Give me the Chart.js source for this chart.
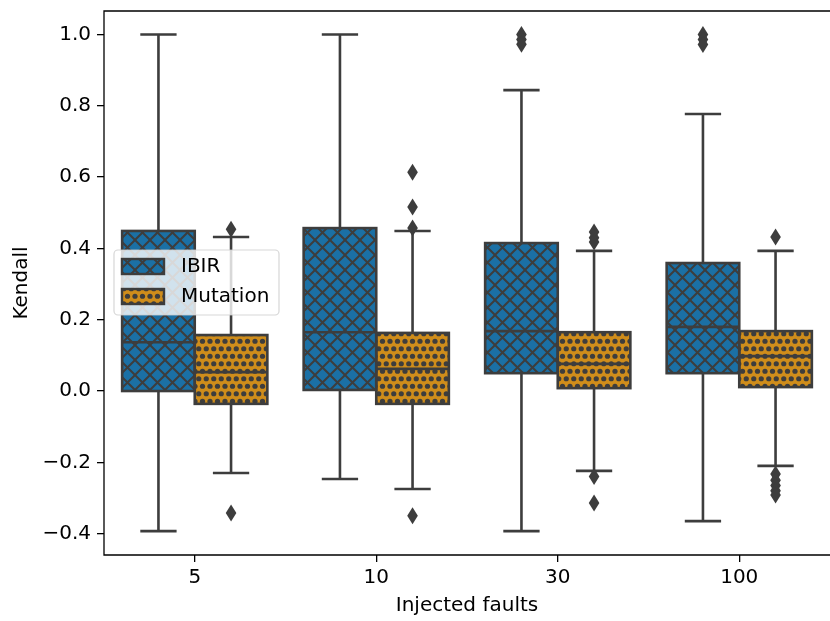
<!DOCTYPE html>
<html>
<head>
<meta charset="utf-8">
<title>Kendall by injected faults</title>
<script src="https://cdn.jsdelivr.net/npm/chart.js@4.4.1/dist/chart.umd.min.js"></script>
<style>
  html, body { margin: 0; padding: 0; background: #fff; overflow: hidden; }
  canvas { display: block; }
</style>
</head>
<body>
<canvas id="chart" width="830" height="621"></canvas>
<script>
const categories = ['5', '10', '30', '100'];
const seriesNames = ['IBIR', 'Mutation'];

// IBIR box statistics
const ibirLow = [-0.393, -0.247, -0.393, -0.365];
const ibirQ1 = [0.0, 0.003, 0.05, 0.05];
const ibirMedian = [0.137, 0.165, 0.168, 0.18];
const ibirQ3 = [0.449, 0.457, 0.415, 0.359];
const ibirHigh = [1.0, 1.0, 0.844, 0.777];
const ibirOutliers = [[], [], [1.0, 0.986, 0.973], [1.0, 0.986, 0.972]];

// Mutation box statistics
const mutLow = [-0.23, -0.275, -0.224, -0.21];
const mutQ1 = [-0.036, -0.036, 0.008, 0.011];
const mutMedian = [0.053, 0.062, 0.076, 0.098];
const mutQ3 = [0.157, 0.163, 0.165, 0.168];
const mutHigh = [0.432, 0.449, 0.393, 0.393];
const mutOutliers = [
    [0.454, -0.342],
    [0.614, 0.516, 0.457, -0.35],
    [0.446, 0.43, 0.418, -0.24, -0.314],
    [0.432, -0.233, -0.25, -0.265, -0.28, -0.292],
];

const yTicksMin = -0.46, yTicksMax = 1.066, yStep = 0.2;

const EDGE = '#3d3d3d';
const BLUE = '#1b70a5';
const ORANGE = '#cf8d1b';
const FONT = "'DejaVu Sans', sans-serif";
const FS = 20;

function crossHatch(fill) {
    const n = 15;
    const c = document.createElement('canvas');
    c.width = n; c.height = n;
    const g = c.getContext('2d');
    g.fillStyle = fill;
    g.fillRect(0, 0, n, n);
    g.strokeStyle = EDGE;
    g.lineWidth = 2;
    g.beginPath();
    for (const k of [-n, 0, n]) {
        g.moveTo(k - 2, -2); g.lineTo(k + n + 2, n + 2);
        g.moveTo(k + n + 2, -2); g.lineTo(k - 2, n + 2);
    }
    g.stroke();
    return g.createPattern(c, 'repeat');
}

function dotHatch(fill) {
    const n = 15, h = n / 2, q = n / 4;
    const c = document.createElement('canvas');
    c.width = n; c.height = n;
    const g = c.getContext('2d');
    g.fillStyle = fill;
    g.fillRect(0, 0, n, n);
    g.fillStyle = EDGE;
    const spots = [[q, q], [q + h, q], [0, q + h], [h, q + h], [n, q + h]];
    for (const [x, y] of spots) {
        g.beginPath();
        g.arc(x, y, 2.6, 0, Math.PI * 2);
        g.fill();
    }
    return g.createPattern(c, 'repeat');
}

const blueFill = crossHatch(BLUE);
const orangeFill = dotHatch(ORANGE);

const boxStats = [
    { low: ibirLow, q1: ibirQ1, med: ibirMedian, q3: ibirQ3, high: ibirHigh, out: ibirOutliers },
    { low: mutLow, q1: mutQ1, med: mutMedian, q3: mutQ3, high: mutHigh, out: mutOutliers },
];

// whiskers, caps, medians, box outlines and fliers on top of the bar fills
const boxParts = {
    id: 'boxParts',
    afterDatasetsDraw(chart) {
        const ctx = chart.ctx;
        const y = chart.scales.y;
        ctx.save();
        ctx.strokeStyle = EDGE;
        ctx.fillStyle = EDGE;
        ctx.lineWidth = 2.6;
        boxStats.forEach((s, di) => {
            chart.getDatasetMeta(di).data.forEach((bar, i) => {
                const { x, width } = bar.getProps(['x', 'width'], true);
                const half = width / 2, cap = width / 4;
                const yLow = y.getPixelForValue(s.low[i]);
                const yQ1 = y.getPixelForValue(s.q1[i]);
                const yMed = y.getPixelForValue(s.med[i]);
                const yQ3 = y.getPixelForValue(s.q3[i]);
                const yHigh = y.getPixelForValue(s.high[i]);
                ctx.beginPath();
                ctx.moveTo(x, yQ3); ctx.lineTo(x, yHigh);
                ctx.moveTo(x, yQ1); ctx.lineTo(x, yLow);
                ctx.moveTo(x - cap, yHigh); ctx.lineTo(x + cap, yHigh);
                ctx.moveTo(x - cap, yLow); ctx.lineTo(x + cap, yLow);
                ctx.moveTo(x - half, yMed); ctx.lineTo(x + half, yMed);
                ctx.stroke();
                ctx.strokeRect(x - half, yQ3, width, yQ1 - yQ3);
                s.out[i].forEach(v => {
                    const py = y.getPixelForValue(v);
                    ctx.beginPath();
                    ctx.moveTo(x, py - 8.5);
                    ctx.lineTo(x + 5.3, py);
                    ctx.lineTo(x, py + 8.5);
                    ctx.lineTo(x - 5.3, py);
                    ctx.closePath();
                    ctx.fill();
                });
            });
        });
        ctx.restore();
    },
    afterDraw(chart) {
        const ctx = chart.ctx;
        const a = chart.chartArea;
        ctx.save();
        // left, top and bottom spines; the right one sits past the canvas edge
        ctx.strokeStyle = '#000';
        ctx.lineWidth = 1.3;
        ctx.beginPath();
        ctx.moveTo(chart.width, a.top);
        ctx.lineTo(a.left, a.top);
        ctx.lineTo(a.left, a.bottom);
        ctx.lineTo(chart.width, a.bottom);
        ctx.stroke();

        // legend
        const lx = a.left + 10, ly = a.top + 239, lw = 165, lh = 65;
        ctx.beginPath();
        ctx.roundRect(lx, ly, lw, lh, 4);
        ctx.fillStyle = 'rgba(255,255,255,0.8)';
        ctx.fill();
        ctx.strokeStyle = 'rgba(204,204,204,0.8)';
        ctx.lineWidth = 1.2;
        ctx.stroke();
        const fills = [blueFill, orangeFill];
        seriesNames.forEach((name, k) => {
            const py = ly + 9 + k * 30;
            ctx.fillStyle = fills[k];
            ctx.fillRect(lx + 8, py, 42, 15);
            ctx.strokeStyle = EDGE;
            ctx.lineWidth = 2.4;
            ctx.strokeRect(lx + 8, py, 42, 15);
            ctx.fillStyle = '#000';
            ctx.font = FS + 'px ' + FONT;
            ctx.textBaseline = 'middle';
            ctx.fillText(name, lx + 67, py + 8);
        });
        ctx.restore();
    }
};

const fmt = v => {
    const r = Math.round(v * 10) / 10;
    return (r === 0 ? 0 : r).toFixed(1).replace('-', '\u2212');
};

// drop the label overhang padding so the frame sits where the layout says
function noOverhang(scale) {
    scale.paddingTop = 0;
    scale.paddingBottom = 0;
    scale.paddingLeft = 0;
    scale.paddingRight = 0;
}

new Chart(document.getElementById('chart'), {
    type: 'bar',
    data: {
        labels: categories,
        datasets: [
            {
                label: seriesNames[0],
                data: categories.map((c, i) => [ibirQ1[i], ibirQ3[i]]),
                backgroundColor: blueFill,
                borderWidth: 0,
                categoryPercentage: 0.8,
                barPercentage: 1.0,
            },
            {
                label: seriesNames[1],
                data: categories.map((c, i) => [mutQ1[i], mutQ3[i]]),
                backgroundColor: orangeFill,
                borderWidth: 0,
                categoryPercentage: 0.8,
                barPercentage: 1.0,
            },
        ],
    },
    options: {
        responsive: false,
        animation: false,
        layout: { autoPadding: false, padding: { top: 11, right: 0, left: 0, bottom: 0 } },
        plugins: { legend: { display: false }, tooltip: { enabled: false } },
        scales: {
            x: {
                type: 'category',
                offset: true,
                border: { display: false },
                grid: { offset: false, drawOnChartArea: false, drawTicks: true, tickLength: 7, color: '#000', lineWidth: 1.3 },
                ticks: { color: '#000', padding: 4, font: { family: FONT, size: FS }, maxRotation: 0 },
                title: { display: true, text: 'Injected faults', color: '#000', font: { family: FONT, size: FS }, padding: { top: 3, bottom: 3 } },
                afterFit(scale) { scale.height = 66; noOverhang(scale); },
            },
            y: {
                min: yTicksMin,
                max: yTicksMax,
                border: { display: false },
                grid: { drawOnChartArea: false, drawTicks: true, tickLength: 7, color: '#000', lineWidth: 1.3 },
                ticks: { stepSize: yStep, includeBounds: false, color: '#000', padding: 6, font: { family: FONT, size: FS }, callback: fmt },
                title: { display: true, text: 'Kendall', color: '#000', font: { family: FONT, size: FS }, padding: { top: 10, bottom: 0 } },
                afterFit(scale) { scale.width = 104; noOverhang(scale); },
            },
        },
    },
    plugins: [boxParts],
});
</script>
</body>
</html>
